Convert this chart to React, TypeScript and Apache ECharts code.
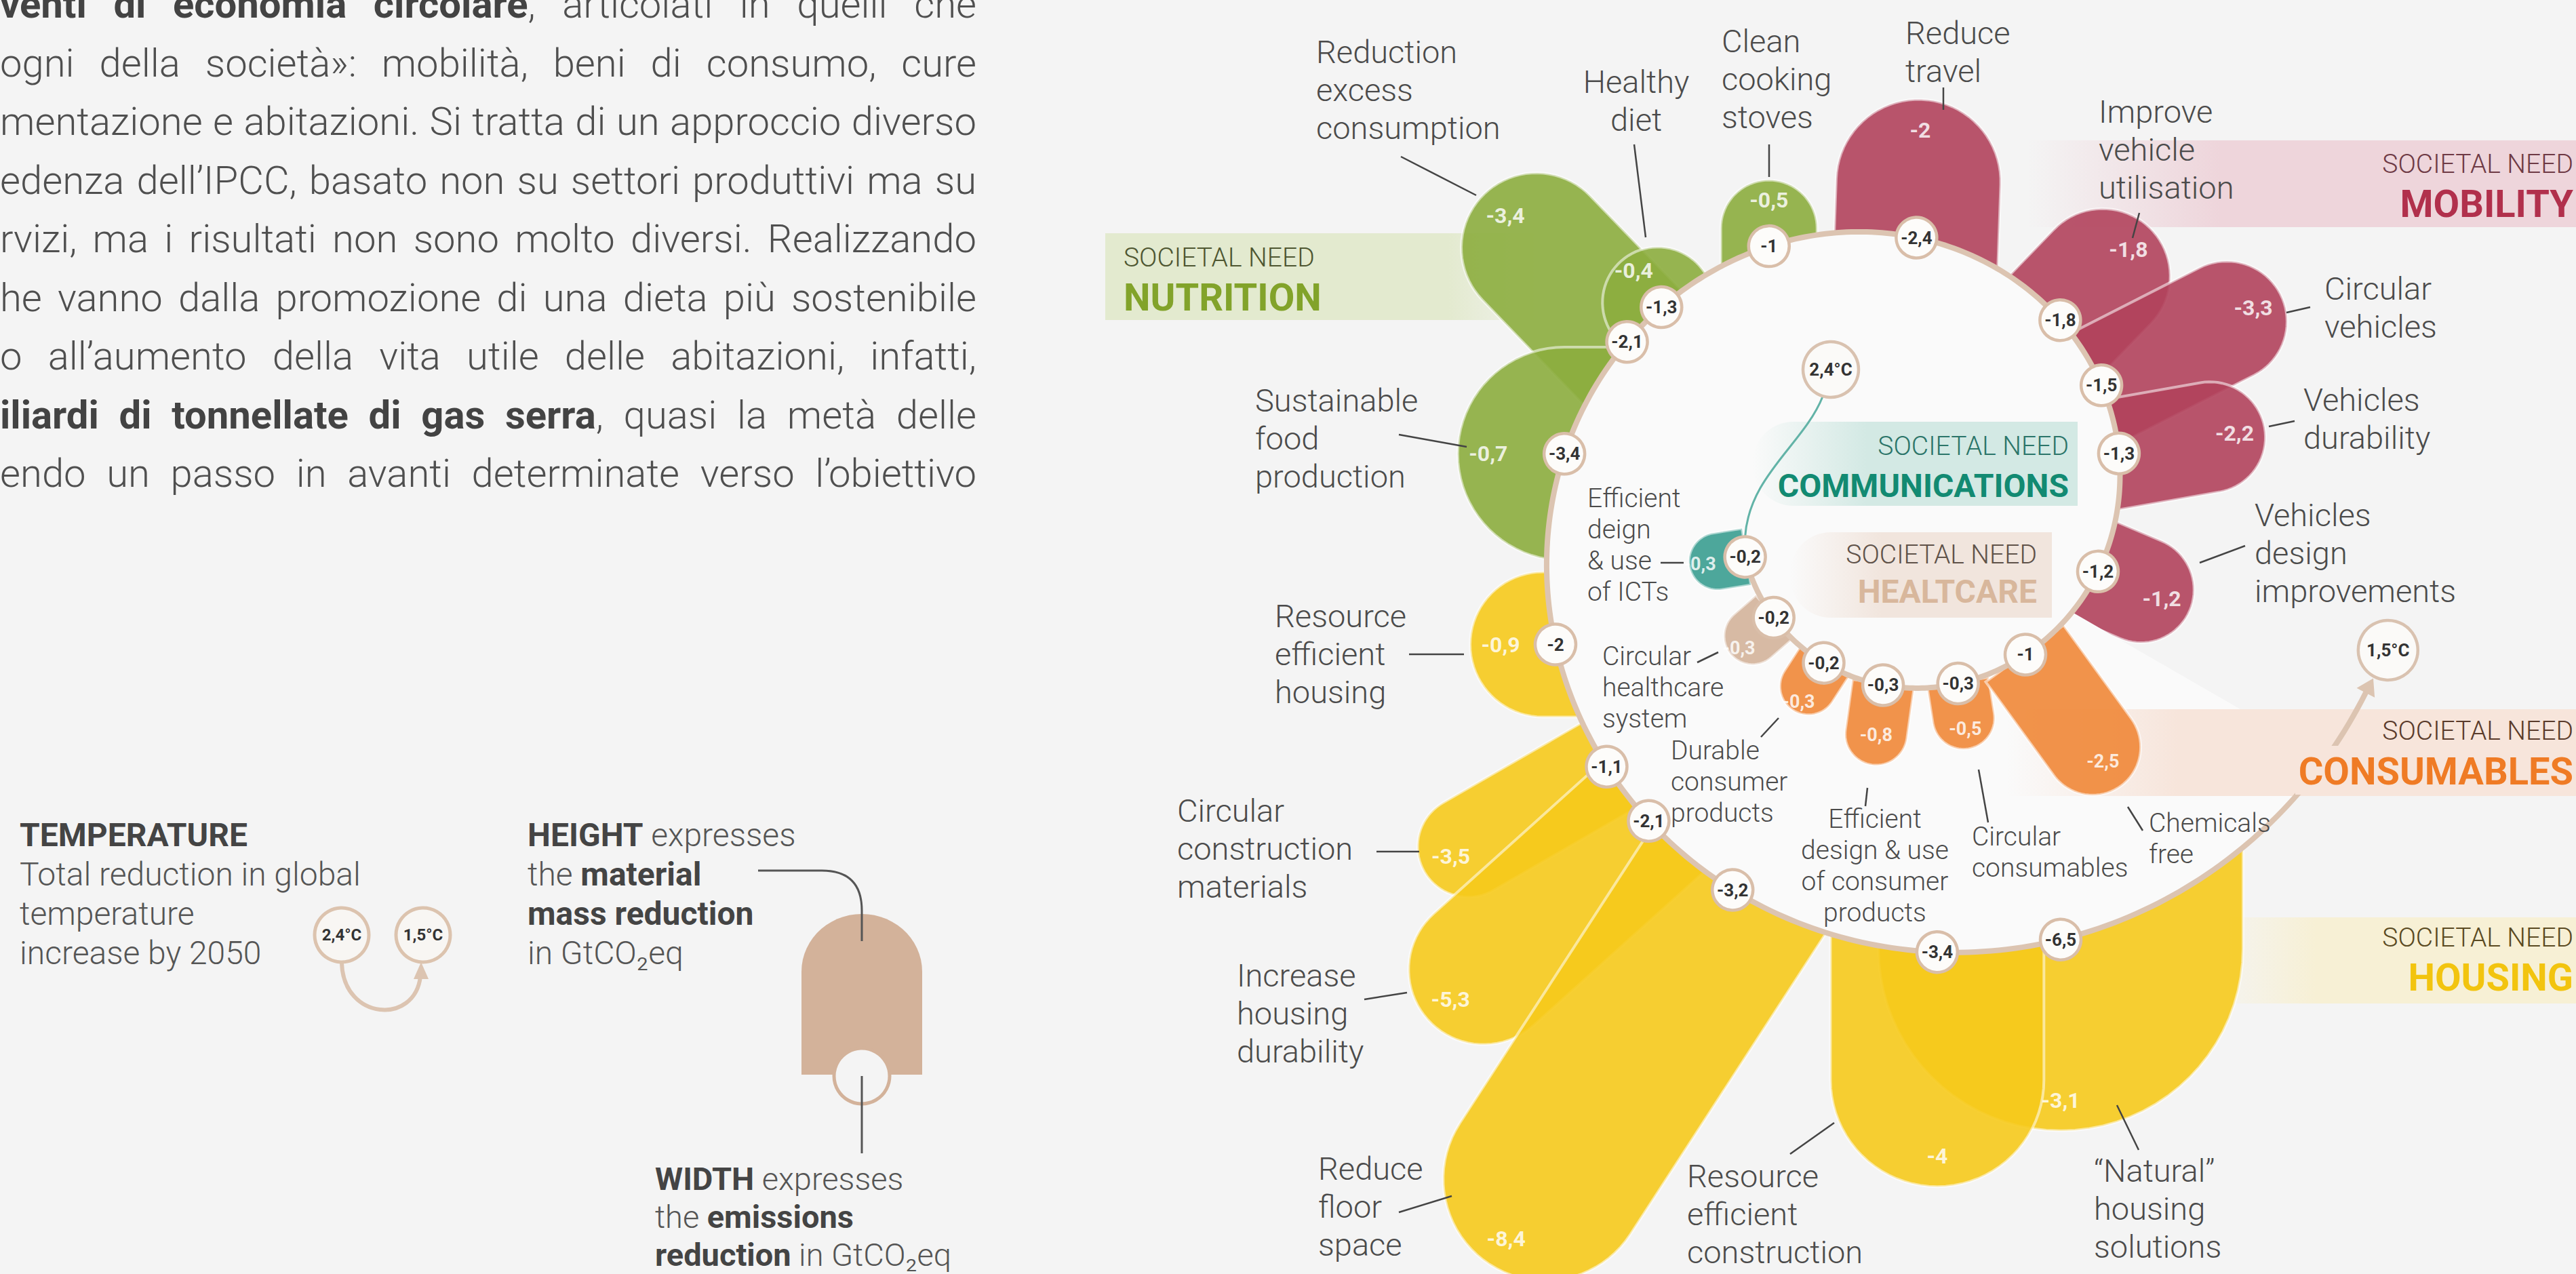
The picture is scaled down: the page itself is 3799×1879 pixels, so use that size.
import React, { useEffect, useRef } from 'react';
import * as echarts from 'echarts';

const CANVAS_W = 3799;
const CANVAS_H = 1879;
const FONT = 'Roboto, "Open Sans", "Noto Sans", sans-serif';

/* ------------------------------------------------------------------ data */
const INTERVENTIONS = [
  'Efficient\ndeign\n& use\nof ICTs',
  'Circular\nhealthcare\nsystem',
  'Durable\nconsumer\nproducts',
  'Efficient\ndesign & use\nof consumer\nproducts',
  'Circular\nconsumables',
  'Chemicals\nfree',
  'Vehicles\ndesign\nimprovements',
  'Vehicles\ndurability',
  'Circular\nvehicles',
  'Improve\nvehicle\nutilisation',
  'Reduce\ntravel',
  'Clean\ncooking\nstoves',
  'Healthy\ndiet',
  'Reduction\nexcess\nconsumption',
  'Sustainable\nfood\nproduction',
  'Resource\nefficient\nhousing',
  'Circular\nconstruction\nmaterials',
  'Increase\nhousing\ndurability',
  'Reduce\nfloor\nspace',
  'Resource\nefficient\nconstruction',
  '“Natural”\nhousing\nsolutions',
];
const SOCIETAL_NEED = [
  'COMMUNICATIONS', 'HEALTCARE', 'CONSUMABLES', 'CONSUMABLES', 'CONSUMABLES', 'CONSUMABLES',
  'MOBILITY', 'MOBILITY', 'MOBILITY', 'MOBILITY', 'MOBILITY',
  'NUTRITION', 'NUTRITION', 'NUTRITION', 'NUTRITION',
  'HOUSING', 'HOUSING', 'HOUSING', 'HOUSING', 'HOUSING', 'HOUSING',
];
// width of each petal: emissions reduction (GtCO2eq), shown in the small circle
const EMISSIONS_REDUCTION = [-0.2, -0.2, -0.2, -0.3, -0.3, -1, -1.2, -1.3, -1.5, -1.8, -2.4, -1, -1.3, -2.1, -3.4, -2, -1.1, -2.1, -3.2, -3.4, -6.5];
// height of each petal: material mass reduction, shown inside the petal
const MATERIAL_REDUCTION = [-0.3, -0.3, -0.3, -0.8, -0.5, -2.5, -1.2, -2.2, -3.3, -1.8, -2, -0.5, -0.4, -3.4, -0.7, -0.9, -3.5, -5.3, -8.4, -4, -3.1];
const NEEDS = ['NUTRITION', 'MOBILITY', 'COMMUNICATIONS', 'HEALTCARE', 'CONSUMABLES', 'HOUSING'];
const NEED_CAPTION = 'SOCIETAL NEED';
const TEMPERATURE_NOW = '2,4°C';
const TEMPERATURE_TARGET = '1,5°C';

const PARAGRAPH_LINES: [string, boolean][][] = [
  [['venti di economia circolare', true], [', articolati in quelli che', false]],
  [['ogni della società»: mobilità, beni di consumo, cure', false]],
  [['mentazione e abitazioni. Si tratta di un approccio diverso', false]],
  [['edenza dell’IPCC, basato non su settori produttivi ma su', false]],
  [['rvizi, ma i risultati non sono molto diversi. Realizzando', false]],
  [['he vanno dalla promozione di una dieta più sostenibile', false]],
  [['o all’aumento della vita utile delle abitazioni, infatti,', false]],
  [['iliardi di tonnellate di gas serra', true], [', quasi la metà delle', false]],
  [['endo un passo in avanti determinate verso l’obiettivo', false]],
];
const LEGEND_TEMPERATURE_TITLE = 'TEMPERATURE';
const LEGEND_TEMPERATURE_TEXT = 'Total reduction in global\ntemperature\nincrease by 2050';
const LEGEND_HEIGHT_TEXT = '{b|HEIGHT} expresses\nthe {b|material}\n{b|mass reduction}\nin GtCO₂eq';
const LEGEND_WIDTH_TEXT = '{b|WIDTH} expresses\nthe {b|emissions}\n{b|reduction} in GtCO₂eq';

/* ---------------------------------------------------------------- styles */
const NEED_STYLE: Record<string, any> = {
  NUTRITION: { petal: '#8cad3e', band: [227, 234, 207], caption: '#4e5631', title: '#82a32a', size: 56 },
  MOBILITY: { petal: '#b1425c', band: [238, 213, 219], caption: '#6e3a45', title: '#b1304c', size: 56 },
  COMMUNICATIONS: { petal: '#3a9d90', band: [211, 233, 228], caption: '#2b7569', title: '#128a72', size: 48 },
  HEALTCARE: { petal: '#d3b29a', band: [241, 229, 221], caption: '#5f5249', title: '#d8b79c', size: 48 },
  CONSUMABLES: { petal: '#ef8737', band: [247, 229, 219], caption: '#5a3b2b', title: '#ef7b25', size: 56 },
  HOUSING: { petal: '#f6ca1c', band: [247, 240, 213], caption: '#5a4a22', title: '#f2c40f', size: 56 },
};
const TEXT_DARK = '#4b4b4b';
const RING_COLOR = '#dcc4b1';
const BACKGROUND = '#f4f4f4';
const INTERIOR = '#fafafa';

/* ---------------------------------------------------------------- layout */
const SPIRAL_CENTER = [2812, 762];
const SPIRAL_ANGLE = [-166, -142.8, -119.6, -98, -72.9, -49.3, -16, 16.6, 34, 52, 88, 117, 139.5, 148, 169.6, 200, 219.8, 229.7, 245, 274, 290];
const PETAL_HEADING = [171, 139, 123, 98, 81, 54, 23, 350, 333, 314, 272, 270, 233, 226, 180, 180, 150, 138, 123, 90, 90];
const INNER_COUNT = 6;
const SPIRAL_END = 339;
const TEMP_NOW_POS = [2700, 545];
const LABEL_ANCHOR: [number, number, string][] = [
  [2341, 735, 'left'], [2363, 968, 'left'], [2464, 1107, 'left'], [2765, 1208, 'center'], [2908, 1234, 'left'], [3169, 1214, 'left'],
  [3325, 759, 'left'], [3397, 589, 'left'], [3428, 425, 'left'], [3095, 164, 'left'], [2810, 48, 'left'],
  [2539, 60, 'left'], [2413, 120, 'center'], [1941, 76, 'left'], [1851, 590, 'left'],
  [1880, 908, 'left'], [1736, 1195, 'left'], [1824, 1438, 'left'], [1944, 1723, 'left'], [2488, 1734, 'left'], [3088, 1726, 'left'],
];
const LEADER_LINE = [
  [2449, 830, 2483, 830], [2503, 977, 2534, 962], [2597, 1087, 2623, 1059], [2754, 1162, 2751, 1189], [2918, 1135, 2932, 1213], [3138, 1190, 3160, 1225],
  [3244, 830, 3311, 805], [3346, 629, 3384, 621], [3372, 461, 3407, 453], [3155, 314, 3145, 351], [2866, 129, 2866, 162],
  [2609, 213, 2609, 261], [2410, 213, 2427, 350], [2066, 231, 2177, 288], [2063, 641, 2163, 659],
  [2078, 965, 2159, 965], [2030, 1256, 2093, 1256], [2012, 1474, 2075, 1464], [2063, 1788, 2141, 1764], [2640, 1702, 2705, 1656], [3122, 1630, 3154, 1696],
];
// [x0, y0, x1, y1, fade side, left fade share]
const NEED_BAND: Record<string, any[]> = {
  NUTRITION: [1630, 344, 2262, 472, 'right', 0],
  MOBILITY: [2990, 207, 3799, 335, 'left', 0.35],
  CONSUMABLES: [2960, 1046, 3799, 1174, 'left', 0.3],
  HOUSING: [3250, 1353, 3799, 1480, 'left', 0.3],
  COMMUNICATIONS: [2585, 622, 3064, 746, 'left', 0.35],
  HEALTCARE: [2640, 785, 3026, 911, 'left', 0.35],
};
// [x, caption y, title y, align]
const NEED_TEXT: Record<string, any[]> = {
  NUTRITION: [1657, 380, 439, 'left'],
  MOBILITY: [3795, 242, 301, 'right'],
  COMMUNICATIONS: [3051, 658, 716, 'right'],
  HEALTCARE: [3004, 818, 872, 'right'],
  CONSUMABLES: [3795, 1078, 1138, 'right'],
  HOUSING: [3795, 1383, 1442, 'right'],
};
const PARA_LEFT = 0;
const PARA_RIGHT = 1440;
const PARA_Y0 = 6;
const PARA_STEP = 86.5;

/* --------------------------------------------------------------- helpers */
const fmt = (v: number) => String(v).replace('.', ',');
const rgba = (c: number[], a: number) => `rgba(${c[0]},${c[1]},${c[2]},${a})`;

function spiralRadius(t: number) {
  return 245 + 37.5 * Math.log(1 + Math.exp((t + 45) / 30));
}
function spiralPoint(t: number): [number, number] {
  const r = spiralRadius(t);
  const a = (t * Math.PI) / 180;
  return [SPIRAL_CENTER[0] + r * Math.cos(a), SPIRAL_CENTER[1] - r * Math.sin(a)];
}
function petalShape(i: number) {
  const [bx, by] = spiralPoint(SPIRAL_ANGLE[i]);
  const w = 70 + 72 * Math.abs(EMISSIONS_REDUCTION[i]);
  const L = Math.max(62 + 71 * Math.abs(MATERIAL_REDUCTION[i]), w / 2);
  const a = (PETAL_HEADING[i] * Math.PI) / 180;
  return { bx, by, w, L, dx: Math.cos(a), dy: Math.sin(a) };
}
function petalPoints(i: number) {
  const { bx, by, w, L, dx, dy } = petalShape(i);
  const hw = w / 2;
  const nx = -dy, ny = dx;
  const back = i < INNER_COUNT ? 2 : hw + 60;
  const c = L - hw;
  const cx = bx + dx * c, cy = by + dy * c;
  const pts: number[][] = [[bx - dx * back + nx * hw, by - dy * back + ny * hw]];
  for (let k = 0; k <= 40; k++) {
    const t = (k / 40) * Math.PI;
    const ux = nx * Math.cos(t) + dx * Math.sin(t);
    const uy = ny * Math.cos(t) + dy * Math.sin(t);
    pts.push([cx + ux * hw, cy + uy * hw]);
  }
  pts.push([bx - dx * back - nx * hw, by - dy * back - ny * hw]);
  return pts;
}
function arrowGeometry() {
  const pe = spiralPoint(SPIRAL_END);
  const pp = spiralPoint(SPIRAL_END - 2);
  let dx = pe[0] - pp[0], dy = pe[1] - pp[1];
  const len = Math.hypot(dx, dy);
  dx /= len; dy /= len;
  const tip = [pe[0] + dx * 24, pe[1] + dy * 24];
  const b1 = [pe[0] - dy * 15, pe[1] + dx * 15];
  const b2 = [pe[0] + dy * 15, pe[1] - dx * 15];
  const target = [tip[0] + dx * 47, tip[1] + dy * 47];
  return { pe, tip, b1, b2, target };
}

const measureCtx = typeof document !== 'undefined' ? document.createElement('canvas').getContext('2d') : null;
const PARA_WEIGHT = 300;
function textWidth(t: string, size: number, bold: boolean) {
  if (!measureCtx) return t.length * size * 0.5;
  measureCtx.font = `${bold ? 700 : PARA_WEIGHT} ${size}px ${FONT}`;
  return measureCtx.measureText(t).width;
}
function lineWords(line: [string, boolean][]) {
  const words: { text: string; bold: boolean }[][] = [];
  let cur: { text: string; bold: boolean }[] | null = null;
  line.forEach(([text, bold]) => {
    text.split(' ').forEach((p, k) => {
      if (k > 0 || cur === null) { cur = []; words.push(cur); }
      if (p.length) cur!.push({ text: p, bold });
    });
  });
  return words.filter((w) => w.length);
}

/* ---------------------------------------------------------------- option */
function buildOption() {
  const layer = (name: string, z: number, data: any[], renderItem: any) => ({
    type: 'custom', name, z, data, renderItem, silent: true, clip: false, coordinateSystem: 'cartesian2d',
  });
  const single = [[0, 0]];
  const all = INTERVENTIONS.map((_, i) => [i, 0]);
  const inner = all.filter((d) => d[0] < INNER_COUNT);
  const outerOrder = all
    .map((d) => d[0])
    .filter((i) => i >= INNER_COUNT)
    .sort((a, b) => spiralPoint(SPIRAL_ANGLE[a])[1] - spiralPoint(SPIRAL_ANGLE[b])[1]);
  outerOrder.splice(outerOrder.indexOf(12), 1);
  outerOrder.push(12);

  const bandRect = (api: any, need: string) => {
    const [x0, y0, x1, y1, fade, share] = NEED_BAND[need];
    const p0 = api.coord([x0, y0]);
    const p1 = api.coord([x1, y1]);
    const c = NEED_STYLE[need].band;
    const stops = fade === 'right'
      ? [{ offset: 0, color: rgba(c, 1) }, { offset: 0.8, color: rgba(c, 1) }, { offset: 1, color: rgba(c, 0.2) }]
      : [{ offset: 0, color: rgba(c, 0) }, { offset: share, color: rgba(c, 1) }, { offset: 1, color: rgba(c, 1) }];
    return {
      type: 'rect',
      shape: { x: p0[0], y: p0[1], width: p1[0] - p0[0], height: p1[1] - p0[1], r: x1 < 3200 && fade === 'left' ? [60, 0, 0, 60] : 0 },
      style: { fill: new echarts.graphic.LinearGradient(0, 0, 1, 0, stops) },
    };
  };

  const renderPetal = (params: any, api: any) => {
    const i = api.value(0);
    const pts = petalPoints(i).map((p) => api.coord(p));
    return {
      type: 'polygon',
      shape: { points: pts },
      style: { fill: NEED_STYLE[SOCIETAL_NEED[i]].petal, opacity: 0.9, stroke: 'rgba(255,255,255,0.6)', lineWidth: 4 },
    };
  };

  // paragraph font fit: the largest size at which every line fits with normal spaces
  const wordsPerLine = PARAGRAPH_LINES.map(lineWords);
  const natural = (size: number) =>
    Math.max(...wordsPerLine.map((ws) => ws.reduce((s, w) => s + w.reduce((a, r) => a + textWidth(r.text, size, r.bold), 0), 0) + (ws.length - 1) * size * 0.2));
  let paraSize = 58;
  while (paraSize > 36 && natural(paraSize) > PARA_RIGHT - PARA_LEFT) paraSize -= 1;

  const series = [
    // background bands of the societal needs (behind outer petals)
    layer('bands', 1, single, (p: any, api: any) => ({
      type: 'group',
      children: ['NUTRITION', 'MOBILITY', 'HOUSING'].map((n) => bandRect(api, n)),
    })),
    // outer petals
    layer('outer petals', 3, outerOrder.map((i) => [i, 0]), renderPetal),
    // light interior of the spiral
    layer('interior', 4, single, (p: any, api: any) => {
      const pts = [];
      for (let t = -30; t <= 330; t += 2) pts.push(api.coord(spiralPoint(t)));
      return { type: 'polygon', shape: { points: pts }, style: { fill: INTERIOR } };
    }),
    // bands that lie over the interior
    layer('inner bands', 5, single, (p: any, api: any) => ({
      type: 'group',
      children: ['CONSUMABLES', 'COMMUNICATIONS', 'HEALTCARE'].map((n) => bandRect(api, n)),
    })),
    // inner petals
    layer('inner petals', 6, inner, renderPetal),
    // spiral ring with arrow towards 1.5°C
    layer('ring', 7, single, (p: any, api: any) => {
      const pts = [];
      for (let t = SPIRAL_ANGLE[0]; t <= SPIRAL_END; t += 1) pts.push(api.coord(spiralPoint(t)));
      const g = arrowGeometry();
      const ict = api.coord(spiralPoint(SPIRAL_ANGLE[0]));
      const tn = api.coord(TEMP_NOW_POS);
      return {
        type: 'group',
        children: [
          { type: 'polyline', shape: { points: pts }, style: { stroke: RING_COLOR, lineWidth: 8, fill: null, lineJoin: 'round', lineCap: 'round' } },
          { type: 'polygon', shape: { points: [api.coord(g.tip), api.coord(g.b1), api.coord(g.b2)] }, style: { fill: RING_COLOR } },
          {
            type: 'bezierCurve',
            shape: { x1: ict[0], y1: ict[1] - 30, cpx1: ict[0] + 6, cpy1: ict[1] - 120, cpx2: tn[0] - 40, cpy2: tn[1] + 110, x2: tn[0] - 12, y2: tn[1] + 40 },
            style: { stroke: '#62b3a7', lineWidth: 3, fill: null },
          },
        ],
      };
    }),
    // emission circles
    layer('emission circles', 8, all, (p: any, api: any) => {
      const i = api.value(0);
      const c = api.coord(spiralPoint(SPIRAL_ANGLE[i]));
      return {
        type: 'group',
        children: [
          { type: 'circle', shape: { cx: c[0], cy: c[1], r: 30 }, style: { fill: '#fdfcfa', stroke: '#d9bea9', lineWidth: 4.5 } },
          {
            type: 'text', x: c[0], y: c[1],
            style: { text: fmt(EMISSIONS_REDUCTION[i]), fill: '#333', fontSize: 26, lineHeight: 26, fontWeight: 'bold', fontFamily: FONT, align: 'center', verticalAlign: 'middle' },
          },
        ],
      };
    }),
    // temperature badges
    layer('temperatures', 8, single, (p: any, api: any) => {
      const g = arrowGeometry();
      const a = api.coord(TEMP_NOW_POS);
      const b = api.coord(g.target);
      const badge = (c: number[], r: number, t: string) => [
        { type: 'circle', shape: { cx: c[0], cy: c[1], r }, style: { fill: '#fbfaf8', stroke: '#d9c2b0', lineWidth: 4.5 } },
        { type: 'text', x: c[0], y: c[1], style: { text: t, fill: '#333', fontSize: 26, lineHeight: 26, fontWeight: 'bold', fontFamily: FONT, align: 'center', verticalAlign: 'middle' } },
      ];
      return { type: 'group', children: [...badge(a, 41, TEMPERATURE_NOW), ...badge(b, 44, TEMPERATURE_TARGET)] };
    }),
    // material values on petals
    layer('material values', 9, all, (p: any, api: any) => {
      const i = api.value(0);
      const s = petalShape(i);
      const d = Math.max(s.L - 45, 68);
      const c = api.coord([s.bx + s.dx * d, s.by + s.dy * d]);
      const size = i < INNER_COUNT ? 27 : 32;
      return {
        type: 'text', x: c[0], y: c[1],
        style: { text: fmt(MATERIAL_REDUCTION[i]), fill: 'rgba(255,255,255,0.82)', fontSize: size, lineHeight: size, fontWeight: 'bold', fontFamily: FONT, align: 'center', verticalAlign: 'middle' },
      };
    }),
    // intervention labels with leader lines
    layer('labels', 10, all, (p: any, api: any) => {
      const i = api.value(0);
      const [x, y, align] = LABEL_ANCHOR[i];
      const isInner = i < INNER_COUNT;
      const size = isInner ? 39 : 47;
      const lh = isInner ? 46 : 56;
      const pt = api.coord([x, y - lh / 2]);
      const [x1, y1, x2, y2] = LEADER_LINE[i];
      const a = api.coord([x1, y1]);
      const b = api.coord([x2, y2]);
      return {
        type: 'group',
        children: [
          { type: 'line', shape: { x1: a[0], y1: a[1], x2: b[0], y2: b[1] }, style: { stroke: '#444', lineWidth: 2.5 } },
          {
            type: 'text', x: pt[0], y: pt[1],
            style: { text: INTERVENTIONS[i], fill: TEXT_DARK, fontSize: size, fontFamily: FONT, fontWeight: 300, lineHeight: lh, align, verticalAlign: 'top' },
          },
        ],
      };
    }),
    // societal need titles
    layer('need titles', 10, single, (p: any, api: any) => {
      const children: any[] = [];
      NEEDS.forEach((n) => {
        const [x, y1, y2, align] = NEED_TEXT[n];
        const st = NEED_STYLE[n];
        if (n === 'CONSUMABLES') {
          const r0 = api.coord([3385, 1100]);
          const r1 = api.coord([3799, 1172]);
          children.push({ type: 'rect', shape: { x: r0[0], y: r0[1], width: r1[0] - r0[0], height: r1[1] - r0[1] }, style: { fill: rgba(st.band, 1) } });
        }
        const a = api.coord([x, y1]);
        const b = api.coord([x, y2]);
        children.push({ type: 'text', x: a[0], y: a[1], style: { text: NEED_CAPTION, fill: st.caption, fontSize: 39, lineHeight: 39, fontFamily: FONT, fontWeight: 300, align, verticalAlign: 'middle' } });
        children.push({ type: 'text', x: b[0], y: b[1], style: { text: n, fill: st.title, fontSize: st.size, lineHeight: st.size, fontFamily: FONT, fontWeight: 'bold', align, verticalAlign: 'middle' } });
      });
      return { type: 'group', children };
    }),
    // legend
    layer('legend', 10, single, (p: any, api: any) => {
      const c = (x: number, y: number) => api.coord([x, y]);
      const t1 = c(29, 1231);
      const t2 = c(29, 1260);
      const ca = c(504, 1379);
      const cb = c(624, 1379);
      const ht = c(778, 1202);
      const wt = c(966, 1710);
      const bz = [c(504, 1421), c(507, 1505), c(612, 1512), c(620, 1440)];
      const petalPts: number[][] = [c(1182, 1585), c(1182, 1433)];
      for (let k = 0; k <= 30; k++) {
        const t = Math.PI + (k / 30) * Math.PI;
        petalPts.push(c(1271 + 89 * Math.cos(t), 1433 + 85 * Math.sin(t)));
      }
      petalPts.push(c(1360, 1433), c(1360, 1585));
      const lc = c(1271, 1587);
      const l0 = c(1118, 1284), l1 = c(1212, 1284), lq = c(1271, 1284), l2 = c(1271, 1343), l3 = c(1271, 1388);
      const v1 = c(1271, 1701);
      const richH = { b: { fontSize: 48, fontWeight: 'bold', fontFamily: FONT, fill: '#444', lineHeight: 58 } };
      const richW = { b: { fontSize: 47, fontWeight: 'bold', fontFamily: FONT, fill: '#444', lineHeight: 56 } };
      return {
        type: 'group',
        children: [
          { type: 'text', x: t1[0], y: t1[1], style: { text: LEGEND_TEMPERATURE_TITLE, fill: '#444', fontSize: 48, lineHeight: 48, fontWeight: 'bold', fontFamily: FONT, verticalAlign: 'middle' } },
          { type: 'text', x: t2[0], y: t2[1], style: { text: LEGEND_TEMPERATURE_TEXT, fill: '#555', fontSize: 48, fontWeight: 300, fontFamily: FONT, lineHeight: 58, verticalAlign: 'top' } },
          { type: 'bezierCurve', shape: { x1: bz[0][0], y1: bz[0][1], cpx1: bz[1][0], cpy1: bz[1][1], cpx2: bz[2][0], cpy2: bz[2][1], x2: bz[3][0], y2: bz[3][1] }, style: { stroke: RING_COLOR, lineWidth: 6, fill: null } },
          { type: 'polygon', shape: { points: [c(621, 1419), c(610, 1444), c(632, 1444)] }, style: { fill: RING_COLOR } },
          { type: 'circle', shape: { cx: ca[0], cy: ca[1], r: 40 }, style: { fill: '#f8f6f3', stroke: '#dcc3ae', lineWidth: 5 } },
          { type: 'circle', shape: { cx: cb[0], cy: cb[1], r: 40 }, style: { fill: '#f8f6f3', stroke: '#dcc3ae', lineWidth: 5 } },
          { type: 'text', x: ca[0], y: ca[1], style: { text: TEMPERATURE_NOW, fill: '#333', fontSize: 24, lineHeight: 24, fontWeight: 'bold', fontFamily: FONT, align: 'center', verticalAlign: 'middle' } },
          { type: 'text', x: cb[0], y: cb[1], style: { text: TEMPERATURE_TARGET, fill: '#333', fontSize: 24, lineHeight: 24, fontWeight: 'bold', fontFamily: FONT, align: 'center', verticalAlign: 'middle' } },
          { type: 'text', x: ht[0], y: ht[1], style: { text: LEGEND_HEIGHT_TEXT, rich: richH, fill: '#555', fontSize: 48, fontWeight: 300, fontFamily: FONT, lineHeight: 58, verticalAlign: 'top' } },
          { type: 'text', x: wt[0], y: wt[1], style: { text: LEGEND_WIDTH_TEXT, rich: richW, fill: '#555', fontSize: 47, fontWeight: 300, fontFamily: FONT, lineHeight: 56, verticalAlign: 'top' } },
          { type: 'polygon', shape: { points: petalPts }, style: { fill: '#d3b29a' } },
          { type: 'circle', shape: { cx: lc[0], cy: lc[1], r: 41 }, style: { fill: BACKGROUND, stroke: '#d3b29a', lineWidth: 5 } },
          {
            type: 'path',
            shape: { pathData: `M${l0[0]} ${l0[1]} L${l1[0]} ${l1[1]} Q${lq[0]} ${lq[1]} ${l2[0]} ${l2[1]} L${l3[0]} ${l3[1]}` },
            style: { stroke: '#555', lineWidth: 3, fill: null },
          },
          { type: 'line', shape: { x1: lc[0], y1: lc[1], x2: v1[0], y2: v1[1] }, style: { stroke: '#555', lineWidth: 3 } },
        ],
      };
    }),
    // article paragraph (justified)
    layer('paragraph', 10, single, (p: any, api: any) => {
      const children: any[] = [];
      wordsPerLine.forEach((ws, li) => {
        const widths = ws.map((w) => w.map((r) => textWidth(r.text, paraSize, r.bold)));
        const total = widths.reduce((s, w) => s + w.reduce((a, b) => a + b, 0), 0);
        const gap = ws.length > 1 ? (PARA_RIGHT - PARA_LEFT - total) / (ws.length - 1) : 0;
        let x = PARA_LEFT;
        const y = PARA_Y0 + li * PARA_STEP;
        ws.forEach((w, wi) => {
          w.forEach((r, ri) => {
            const pt = api.coord([x, y]);
            children.push({
              type: 'text', x: pt[0], y: pt[1],
              style: { text: r.text, fill: r.bold ? '#434343' : '#4f4f4f', fontSize: paraSize, lineHeight: paraSize, fontWeight: r.bold ? 'bold' : PARA_WEIGHT, fontFamily: FONT, verticalAlign: 'middle', align: 'left' },
            });
            x += widths[wi][ri];
          });
          x += gap;
        });
      });
      return { type: 'group', children };
    }),
  ];

  return {
    animation: false,
    backgroundColor: BACKGROUND,
    grid: { left: 0, right: 0, top: 0, bottom: 0 },
    xAxis: { type: 'value', min: 0, max: CANVAS_W, show: false },
    yAxis: { type: 'value', min: 0, max: CANVAS_H, inverse: true, show: false },
    series,
  };
}

export default function App() {
  const ref = useRef<HTMLDivElement>(null);
  useEffect(() => {
    if (!ref.current) return;
    const chart = echarts.init(ref.current, null, { renderer: 'svg' });
    chart.setOption(buildOption() as any);
    return () => chart.dispose();
  }, []);
  return (
    <div
      ref={ref}
      style={{ position: 'absolute', left: 0, top: 0, width: CANVAS_W, height: CANVAS_H, background: BACKGROUND, overflow: 'hidden' }}
    />
  );
}
